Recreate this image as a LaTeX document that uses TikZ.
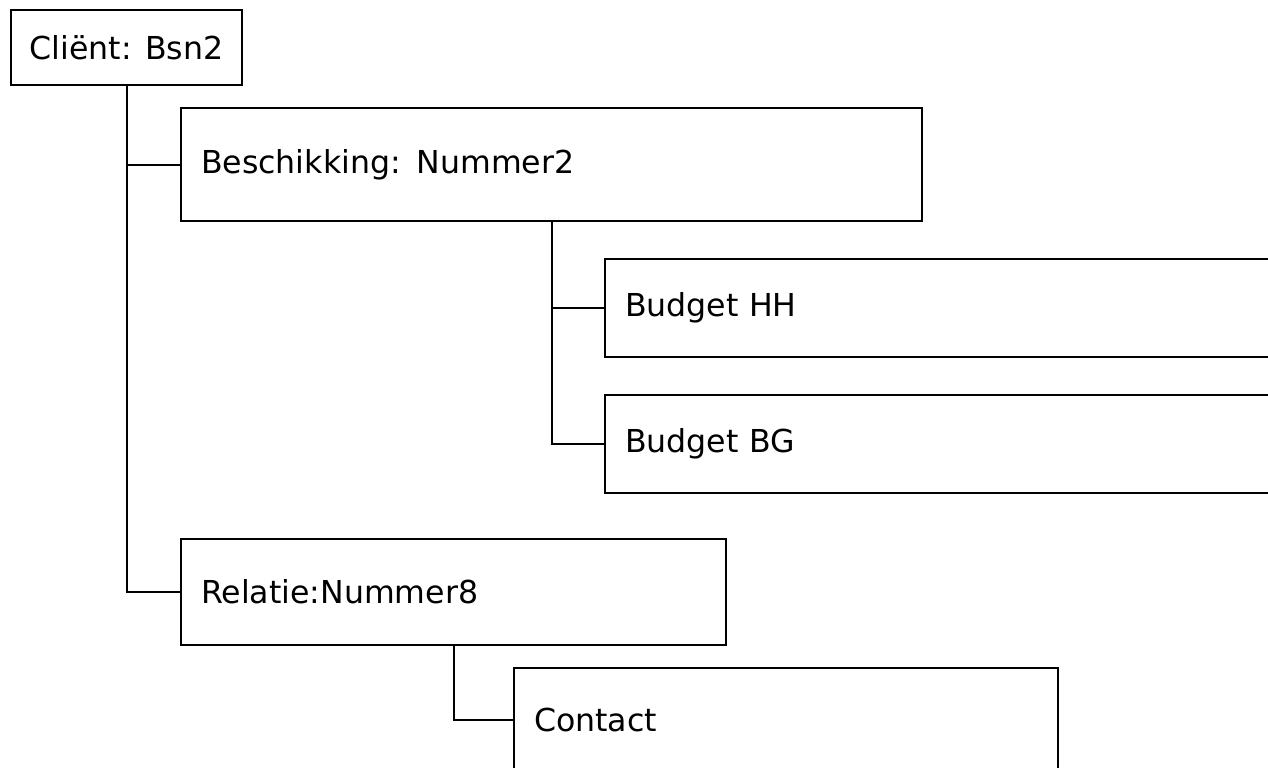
\documentclass[tikz,border=0pt]{standalone}
\usepackage{fontspec}
\setmainfont{DejaVu Sans}
\begin{document}
\begin{tikzpicture}[x=0.5pt,y=-0.5pt]
        		\tikzstyle{blok}=[rectangle,draw=black,line width=1pt,anchor=north west,inner xsep=10pt,align=left,font=\fontsize{15.8}{18}\selectfont]
        		\tikzstyle{edge}=[draw, line width=1pt]
        		\useasboundingbox (0,0) rectangle (1268,767);
        		\clip (0,0) rectangle (1268,767);
       			\begin{scope}
			        \node [blok,inner xsep=0pt,minimum width=115.5pt,minimum height=37.5pt] (client) at (10,9) {Cliënt: Bsn2};
			        \node [blok,text width=350.5pt,minimum height=56.5pt] (besch) at (180,107) {Beschikking: Nummer2};
			        \node [blok,text width=330pt,minimum height=49pt] (hh) at (604,258) {Budget HH};
			        \node [blok,text width=330pt,minimum height=49pt] (bg) at (604,394) {Budget BG};
			        \node [blok,text width=252.5pt,minimum height=53pt] (relatie) at (180,538) {Relatie:Nummer8};
			        \node [blok,text width=252pt,minimum height=52pt] (contact) at (513,667) {Contact};
			        \path[edge] (client.south) |- (besch.west);
			        \path[edge] (client.south) |- (relatie.west);
			        \path[edge] (besch.south) |- (hh.west);
			        \path[edge] (besch.south) |- (bg.west);
			        \path[edge] (relatie.south) |- (contact.west);
        		\end{scope}
      		\end{tikzpicture}
\end{document}
